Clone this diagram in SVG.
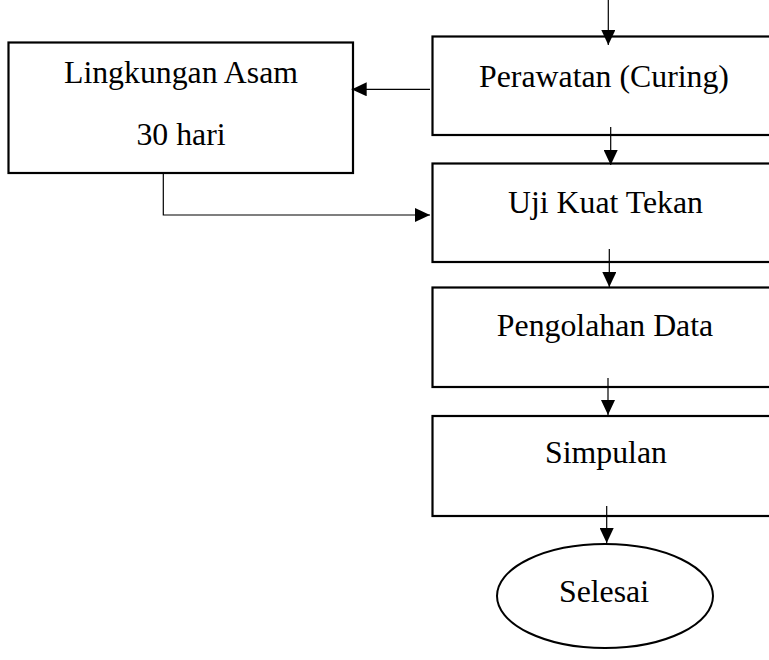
<svg xmlns="http://www.w3.org/2000/svg" width="769" height="660" viewBox="0 0 769 660">
  <defs>
    <marker id="arr" markerUnits="userSpaceOnUse" markerWidth="15" markerHeight="14" refX="15" refY="7" orient="auto">
      <path d="M0,0 L15,7 L0,14 z" fill="#000"/>
    </marker>
  </defs>
  <style>
    .box { fill: #fff; stroke: #000; stroke-width: 2.2; }
    .t { font-family: "Liberation Serif", "Times New Roman", serif; font-size: 31.8px; fill: #000; text-anchor: middle; }
    .c { fill: none; stroke: #000; stroke-width: 1.2; marker-end: url(#arr); }
  </style>
  <rect width="769" height="660" fill="#fff"/>
  <g id="n-lingkungan">
    <rect class="box" x="8.5" y="42.5" width="344.5" height="130.5"/>
    <text class="t" x="181" y="83">Lingkungan Asam</text>
    <text class="t" x="181" y="145">30 hari</text>
  </g>
  <g id="n-perawatan">
    <rect class="box" x="432.5" y="36.5" width="350" height="98.5"/>
    <text class="t" x="604" y="87">Perawatan (Curing)</text>
  </g>
  <g id="n-uji">
    <rect class="box" x="432.5" y="163.5" width="350" height="98.5"/>
    <text class="t" x="605.5" y="213">Uji Kuat Tekan</text>
  </g>
  <g id="n-pengolahan">
    <rect class="box" x="432.5" y="287.5" width="350" height="99.5"/>
    <text class="t" x="605" y="336">Pengolahan Data</text>
  </g>
  <g id="n-simpulan">
    <rect class="box" x="432.5" y="416" width="350" height="100"/>
    <text class="t" x="606" y="463">Simpulan</text>
  </g>
  <g id="n-selesai">
    <ellipse cx="605" cy="596" rx="108" ry="52" fill="#fff" stroke="#000" stroke-width="2"/>
    <text class="t" x="604" y="602">Selesai</text>
  </g>
  <g id="connectors">
    <path class="c" d="M608.3,0 L608.3,45"/>
    <path class="c" d="M430,89.3 L351.7,89.3"/>
    <path class="c" d="M610.7,127 L610.7,165"/>
    <path class="c" d="M163.3,173 L163.3,215 L430,215"/>
    <path class="c" d="M609.3,249 L609.3,287"/>
    <path class="c" d="M608,378 L608,415"/>
    <path class="c" d="M606.7,506 L606.7,543"/>
  </g>
</svg>
